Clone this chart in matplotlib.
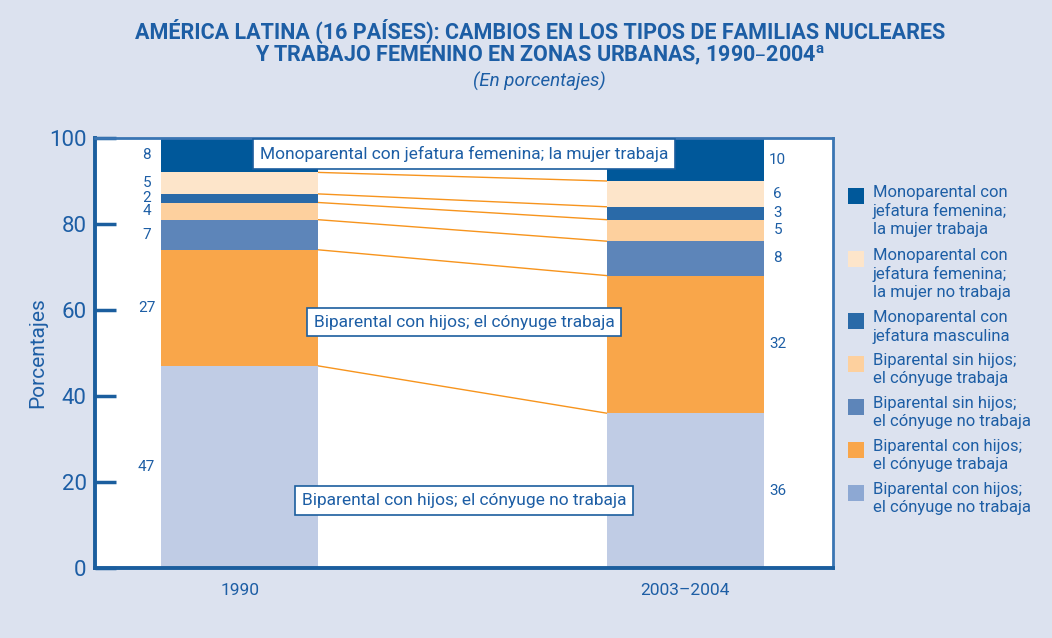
import matplotlib
matplotlib.use('Agg')
from matplotlib import pyplot as plt
from matplotlib.patches import Rectangle
import numpy as np

# Chart data (bottom -> top of each stack)
years = ['1990', '2003–2004']
bip_con_no = [47, 36]
bip_con_si = [27, 32]
bip_sin_no = [7, 8]
bip_sin_si = [4, 5]
mono_masc = [2, 3]
mono_fem_no = [5, 6]
mono_fem_si = [8, 10]

series_labels = ['Biparental con hijos;\nel cónyuge no trabaja',
                 'Biparental con hijos;\nel cónyuge trabaja',
                 'Biparental sin hijos;\nel cónyuge no trabaja',
                 'Biparental sin hijos;\nel cónyuge trabaja',
                 'Monoparental con\njefatura masculina',
                 'Monoparental con\njefatura femenina;\nla mujer no trabaja',
                 'Monoparental con\njefatura femenina;\nla mujer trabaja']
series = [bip_con_no, bip_con_si, bip_sin_no, bip_sin_si, mono_masc, mono_fem_no, mono_fem_si]

BLUE = '#1D5EA5'
BG = '#DCE2EF'
bar_colors = ['#C0CCE5', '#F9A64A', '#5D85B9', '#FDD09E', '#2A6AA8', '#FDE5CA', '#00589A']
legend_colors = ['#8DA8D3', '#F9A64A', '#5D85B9', '#FDD09E', '#2A6AA8', '#FDE5CA', '#00589A']

plt.rcParams['font.family'] = ['Liberation Sans Narrow', 'Roboto', 'DejaVu Sans']

W, H = 1052, 638
fig = plt.figure(figsize=(W/100, H/100), dpi=100, facecolor=BG)
ax = fig.add_axes([95/W, 1-568/H, 738/W, 430/H])
ax.set_facecolor('white')

xpos = np.array([0.196, 0.800])
width = 0.213
bottoms = np.zeros(2)
for vals, col in zip(series, bar_colors):
    ax.bar(xpos, vals, width, bottom=bottoms, color=col, edgecolor='none', zorder=2)
    # value labels
    mids = bottoms + np.array(vals) / 2.0
    ax.text(0.07, mids[0], str(vals[0]), ha='center', va='center', color=BLUE, fontsize=11)
    ax.text(0.925, mids[1], str(vals[1]), ha='center', va='center', color=BLUE, fontsize=11)
    bottoms = bottoms + np.array(vals)
    # connecting lines between boundaries
    if bottoms[0] < 100:
        ax.plot([xpos[0] + width/2, xpos[1] - width/2], bottoms, color='#F7941D', lw=1.0, zorder=1)

box = dict(boxstyle='square,pad=0.4', facecolor='white', edgecolor='#1B5E9E', lw=1.2)
ax.text(0.5, 96.3, 'Monoparental con jefatura femenina; la mujer trabaja', ha='center', va='center',
        color=BLUE, fontsize=12.5, bbox=box, zorder=5)
ax.text(0.5, 57.2, 'Biparental con hijos; el cónyuge trabaja', ha='center', va='center',
        color=BLUE, fontsize=12.5, bbox=box, zorder=5)
ax.text(0.5, 15.6, 'Biparental con hijos; el cónyuge no trabaja', ha='center', va='center',
        color=BLUE, fontsize=12.5, bbox=box, zorder=5)

ax.set_xlim(0, 1)
ax.set_ylim(0, 100)
ax.set_yticks(range(0, 101, 20))
ax.tick_params(axis='y', direction='in', length=15, width=2.5, color='#1B5E9E',
               labelsize=16, labelcolor=BLUE, pad=6)
ax.set_xticks(xpos)
ax.set_xticklabels(years)
ax.tick_params(axis='x', length=0, labelsize=12.5, labelcolor=BLUE, pad=11)
for s in ['left', 'bottom']:
    ax.spines[s].set_linewidth(2.8)
    ax.spines[s].set_color('#1B5E9E')
for s in ['top', 'right']:
    ax.spines[s].set_linewidth(2)
    ax.spines[s].set_color('#3A75B3')
ax.set_ylabel('Porcentajes', color=BLUE, fontsize=15)
ax.yaxis.set_label_coords(-0.065, 0.5)

# legend drawn by hand so swatches sit at the top of each entry
y = 1 - 188/H
line_h = 19.5/H
for lab, col in zip(series_labels[::-1], legend_colors[::-1]):
    fig.patches.append(Rectangle((848/W, y - 16/H), 16/W, 16/H, facecolor=col,
                                 edgecolor='none', transform=fig.transFigure, figure=fig))
    fig.text(873/W, y + 3/H, lab, ha='left', va='top', color=BLUE, fontsize=12,
             linespacing=1.25)
    y -= lab.count('\n') * line_h + line_h + 4/H

fig.text(0.513, 1-31/H, 'AMÉRICA LATINA (16 PAÍSES): CAMBIOS EN LOS TIPOS DE FAMILIAS NUCLEARES',
         ha='center', va='center', color=BLUE, fontsize=15.5, fontweight='bold')
fig.text(0.513, 1-56/H, 'Y TRABAJO FEMENINO EN ZONAS URBANAS, 1990–2004$^{\\mathregular{a}}$',
         ha='center', va='center', color=BLUE, fontsize=15.5, fontweight='bold')
fig.text(0.513, 1-81/H, '(En porcentajes)', ha='center', va='center', color=BLUE,
         fontsize=13.5, style='italic')

fig.savefig('out.png', dpi=100, facecolor=BG)
